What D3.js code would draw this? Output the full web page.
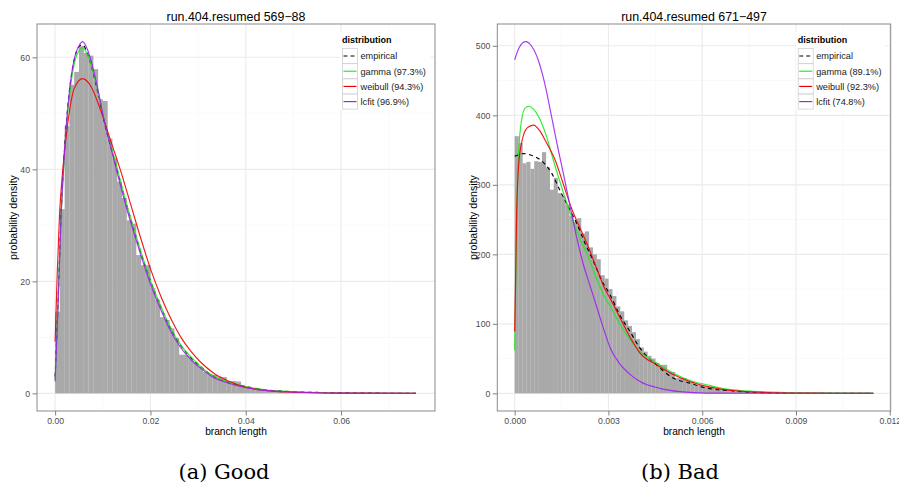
<!DOCTYPE html>
<html>
<head>
<meta charset="utf-8">
<script src="https://cdn.jsdelivr.net/npm/d3@7"></script>
<style>
body{margin:0;background:#fff;}
text{font-family:"Liberation Sans",Arial,sans-serif;}
.caption{font-family:"DejaVu Serif",serif;}
</style>
</head>
<body>
<svg id="chart"></svg>
<script>
//legend entries
var seriesNames=["empirical","gamma","weibull","lcfit"]
var goodLegend=["empirical","gamma (97.3%)","weibull (94.3%)","lcfit (96.9%)"]
var badLegend=["empirical","gamma (89.1%)","weibull (92.3%)","lcfit (74.8%)"]

//tick labels
var goodXTicks=[0,0.02,0.04,0.06]
var goodYTicks=[0,20,40,60]
var badXTicks=[0,0.003,0.006,0.009,0.012]
var badYTicks=[0,100,200,300,400,500]

//histogram, good run (bin width 0.001, density per bin)
var goodBinWidth=0.001
var goodBins=[14.6,32.9,47.7,55.1,57.4,62.0,60.8,60.3,57.9,52.5,52.2,45.5,42.0,37.8,34.9,30.9,30.3,24.7,22.9,22.9,
  18.8,16.7,13.6,13.1,11.6,9.9,6.9,6.9,6.2,5.5,4.7,3.8,3.5,3.3,3.0,2.9,2.2,2.2,2.1,1.3,
  1.2,0.9,0.7,0.6,0.6,0.4,0.3,0.3,0.2,0.2,0.15,0.1,0.1,0.1,0.05,0.05,0.05,0.05,0.03,0.03,
  0.03,0.02,0.02,0.02,0.02,0.01,0.01,0.01,0.01,0.01,0.01,0.01,0.01,0.01,0.01,0.02]

//fitted curves, good run: [branch length, density]
var goodEmpirical=[[0,3],[0.0006,16],[0.0013,33],[0.002,44],[0.003,54],[0.004,59.5],[0.0051,62],[0.0058,62.2],
  [0.0068,60.6],[0.0079,57.5],[0.0089,54],[0.0103,48.5],[0.0117,44],[0.0131,39.6],[0.0149,34],[0.0166,29],
  [0.0183,24.3],[0.0201,19.9],[0.0222,15.4],[0.0243,11.5],[0.0264,8.5],[0.0285,6.4],[0.0305,4.8],[0.0333,3],
  [0.0361,2],[0.04,1.2],[0.0445,0.6],[0.05,0.3],[0.06,0.1],[0.0757,0]]
var goodGamma=[[0,2.4],[0.00056,14.9],[0.00126,31.6],[0.00195,42.3],[0.003,53],[0.00404,58.9],[0.00509,61.3],
  [0.00579,61.7],[0.00683,60.4],[0.00788,57.7],[0.00893,54.2],[0.01032,48.8],[0.01172,44.3],[0.01311,39.9],
  [0.01485,34.2],[0.0166,29.2],[0.01834,24.4],[0.0201,19.9],[0.0222,15.5],[0.0243,11.6],[0.0264,8.6],
  [0.0285,6.5],[0.0305,4.8],[0.0333,3.0],[0.0361,2.1],[0.04,1.2],[0.0445,0.6],[0.05,0.3],[0.06,0.05],[0.0757,0]]
var goodWeibull=[[0,9.2],[0.00042,20.8],[0.00091,31.6],[0.0016,39.9],[0.00265,48.2],[0.00404,54.5],[0.00579,56.2],
  [0.00753,54.8],[0.00962,50.4],[0.0117,45.0],[0.0138,39.6],[0.0159,33.6],[0.018,27.6],[0.0201,22.0],[0.0222,17.3],
  [0.0243,13.3],[0.0264,10.0],[0.0285,7.5],[0.0305,5.6],[0.0333,3.6],[0.0361,2.3],[0.04,1.1],[0.0445,0.5],
  [0.05,0.2],[0.06,0.05],[0.0757,0]]
var goodLcfit=[[0,2.1],[0.00056,14.3],[0.00126,31.6],[0.00195,42.9],[0.003,53.9],[0.00404,59.8],[0.00509,62.2],
  [0.00579,62.8],[0.00683,61.3],[0.00788,58.3],[0.00893,54.5],[0.01032,48.6],[0.01172,43.8],[0.01311,39.1],
  [0.01485,33.5],[0.0166,28.5],[0.01834,23.7],[0.0201,19.3],[0.0222,14.9],[0.0243,11.0],[0.0264,8.1],
  [0.0285,6.0],[0.0305,4.5],[0.0333,2.8],[0.0361,1.9],[0.04,1.0],[0.0445,0.5],[0.05,0.25],[0.06,0.05],[0.0757,0]]

//histogram, bad run (bin width 0.000125)
var badBinWidth=0.000125
var badBins=[370,360,331,333,323,334,333,347,325,293,310,288,283,272,255,247,252,230,233,210,
  200,193,170,165,150,140,125,118,105,97,88,78,66,60,54,50,44,41,41,31,
  31,22,22,22,19.5,16.8,12,12,9.6,9.6,9.6,5.8,5.8,5.8,5.8,2.5,2.5,2.5,2.5,2.5,
  2.5,1.5,1.2,1,1,0.8,0.8,0.6,0.6,0.5,0.4,0.4,0.3,0.3,0.3,0.2,0.2,0.2,0.2,0.1,
  0.1,0.1,0.1,0.1,0.1,0.1,0.1,0.1,0.1,0.1,0.1,0.1]

//fitted curves, bad run
var badEmpirical=[[0,341],[0.00028,345],[0.00051,343],[0.00092,332],[0.00118,317],[0.00145,292],[0.00172,268],
  [0.00198,245],[0.00225,216],[0.00252,190],[0.00278,163],[0.00305,142],[0.00337,112],[0.0037,88],[0.00401,65],
  [0.00454,41],[0.00507,22],[0.0056,14.7],[0.00614,7.5],[0.00678,4.2],[0.00753,1.8],[0.00849,0.3],[0.01147,0]]
var badGamma=[[0,62],[0.00006,240],[0.00012,340],[0.00022,393],[0.00033,410],[0.00045,413],[0.0006,409],
  [0.0008,395],[0.001,372],[0.00124,335],[0.00155,290],[0.00182,254],[0.00209,222],[0.00236,196],[0.00262,165],
  [0.00289,138],[0.00305,126],[0.0034,97],[0.0037,77],[0.00401,60],[0.00454,43.6],[0.00507,29.2],[0.0056,18.6],
  [0.00614,12.4],[0.00678,6.1],[0.00753,3.3],[0.00849,1.4],[0.0095,0.7],[0.01147,0.3]]
var badWeibull=[[0,89],[0.00006,250],[0.00012,325],[0.00022,360],[0.0004,382],[0.0006,386],[0.0008,378],
  [0.001,362],[0.00129,336],[0.00155,302],[0.00182,266],[0.00209,238],[0.00236,210],[0.00262,180],[0.00289,150],
  [0.00305,137],[0.0034,106],[0.0037,80],[0.00401,58],[0.00454,41],[0.00507,27],[0.0056,17],[0.00614,10],
  [0.00678,5],[0.00753,2.2],[0.00849,0.8],[0.0095,0.3],[0.01147,0]]
var badLcfit=[[0,480],[0.00015,498],[0.00035,506],[0.00055,499],[0.00075,480],[0.00095,448],[0.00115,405],
  [0.00135,360],[0.00155,318],[0.00177,270],[0.00198,225],[0.0022,185],[0.00241,155],[0.00262,125],[0.00283,95],
  [0.00305,66],[0.00337,42],[0.0037,27],[0.00401,17],[0.00465,7.2],[0.00529,2.4],[0.00614,0.3],[0.01147,0]]

var colors={empirical:"#000000",gamma:"#1ee81e",weibull:"#f00000",lcfit:"#a020f0"}

var svg=d3.select("#chart")
    .attr("width",899)
    .attr("height",484)

var drawPanel=function(p){
    var xScale=d3.scaleLinear().domain(p.xDomain).range([p.left,p.right])
    var yScale=d3.scaleLinear().domain(p.yDomain).range([p.bottom,p.top])
    var g=svg.append("g")

//minor + major grid
    g.selectAll(".minx").data(p.minorX).enter().append("line")
        .attr("x1",function(d){return xScale(d)}).attr("x2",function(d){return xScale(d)})
        .attr("y1",p.top).attr("y2",p.bottom).attr("stroke","#f7f7f7").attr("stroke-width",0.8)
    g.selectAll(".miny").data(p.minorY).enter().append("line")
        .attr("y1",function(d){return yScale(d)}).attr("y2",function(d){return yScale(d)})
        .attr("x1",p.left).attr("x2",p.right).attr("stroke","#f7f7f7").attr("stroke-width",0.8)
    g.selectAll(".majx").data(p.xTicks).enter().append("line")
        .attr("x1",function(d){return xScale(d)}).attr("x2",function(d){return xScale(d)})
        .attr("y1",p.top).attr("y2",p.bottom).attr("stroke","#ebebeb").attr("stroke-width",1.1)
    g.selectAll(".majy").data(p.yTicks).enter().append("line")
        .attr("y1",function(d){return yScale(d)}).attr("y2",function(d){return yScale(d)})
        .attr("x1",p.left).attr("x2",p.right).attr("stroke","#ebebeb").attr("stroke-width",1.1)

//histogram
    g.append("g").selectAll("rect")
        .data(p.bins)
        .enter()
        .append("rect")
        .attr("x",function(d,i){return xScale(i*p.binWidth)})
        .attr("width",function(d,i){return xScale((i+1)*p.binWidth)-xScale(i*p.binWidth)+0.15})
        .attr("y",function(d){return yScale(d)})
        .attr("height",function(d){return yScale(0)-yScale(d)})
        .attr("fill","#a9a9a9")

//curves
    var lineGenerator=d3.line()
        .x(function(d){return xScale(d[0])})
        .y(function(d){return yScale(d[1])})
        .curve(d3.curveMonotoneX)
    seriesNames.forEach(function(name,i){
        g.append("path")
            .datum(p.curves[i])
            .attr("d",lineGenerator)
            .attr("fill","none")
            .attr("stroke",colors[name])
            .attr("stroke-width",1.15)
            .attr("stroke-opacity",name=="empirical"?1:0.9)
            .attr("stroke-dasharray",name=="empirical"?"4,3.5":null)
    })

//legend
    var lx=p.right-93
    var legend=g.append("g")
    legend.append("rect")
        .attr("x",lx-2).attr("y",32).attr("width",p.right-5-(lx-2)).attr("height",78)
        .attr("fill","#fff")
    legend.append("text")
        .text("distribution")
        .attr("x",lx).attr("y",43)
        .attr("font-size","9px").attr("font-weight","bold")
    seriesNames.forEach(function(name,i){
        var ry=48+i*15.2
        legend.append("rect")
            .attr("x",lx+0.5).attr("y",ry+0.5).attr("width",15).attr("height",15)
            .attr("fill","#fff").attr("stroke","#d0d0d0").attr("stroke-width",0.8)
        legend.append("line")
            .attr("x1",lx+1.5).attr("x2",lx+14.5)
            .attr("y1",ry+8).attr("y2",ry+8)
            .attr("stroke",colors[name]).attr("stroke-width",1.15)
            .attr("stroke-dasharray",name=="empirical"?"4,3":null)
        legend.append("text")
            .text(p.legend[i])
            .attr("x",lx+18.5).attr("y",ry+11.3)
            .attr("font-size","9.2px").attr("fill","#1a1a1a")
    })

//panel border
    g.append("rect")
        .attr("x",p.left).attr("y",p.top)
        .attr("width",p.right-p.left).attr("height",p.bottom-p.top)
        .attr("fill","none").attr("stroke","#8a8a8a").attr("stroke-width",1)

//axes
    var xAxis=d3.axisBottom(xScale).tickValues(p.xTicks).tickFormat(d3.format(p.xFormat))
        .tickSize(4.5).tickPadding(2.5)
    var yAxis=d3.axisLeft(yScale).tickValues(p.yTicks).tickFormat(d3.format("d"))
        .tickSize(4.5).tickPadding(2.5)
    var xa=g.append("g").attr("transform","translate(0,"+p.bottom+")").call(xAxis)
    var ya=g.append("g").attr("transform","translate("+p.left+",0)").call(yAxis)
    ;[xa,ya].forEach(function(a){
        a.select(".domain").remove()
        a.selectAll("line").attr("stroke","#7f7f7f")
        a.selectAll("text").attr("fill","#4d4d4d").attr("font-size","8.7px")
            .attr("font-family","Liberation Sans, Arial, sans-serif")
    })

//labels
    g.append("text")
        .text(p.title)
        .attr("text-anchor","middle")
        .attr("x",(p.left+p.right)/2).attr("y",20.5)
        .attr("font-size","12.4px")
    g.append("text")
        .text("branch length")
        .attr("text-anchor","middle")
        .attr("x",(p.left+p.right)/2).attr("y",434.5)
        .attr("font-size","10.2px")
    g.append("g")
        .attr("transform","translate("+(p.left-20.5)+","+((p.top+p.bottom)/2)+")")
        .append("text")
        .text("probability density")
        .attr("text-anchor","middle")
        .attr("transform","rotate(270)")
        .attr("font-size","10.6px")
    g.append("text")
        .text(p.caption)
        .classed("caption",true)
        .attr("text-anchor","middle")
        .attr("x",p.captionX).attr("y",479)
        .attr("font-size","21px")
}

drawPanel({
    left:37,right:435,top:24,bottom:411,
    xDomain:[-0.0038,0.0797],yDomain:[-3.15,65.95],
    xTicks:goodXTicks,yTicks:goodYTicks,xFormat:".2f",
    minorX:[0.01,0.03,0.05,0.07],minorY:[10,30,50],
    bins:goodBins,binWidth:goodBinWidth,
    curves:[goodEmpirical,goodGamma,goodWeibull,goodLcfit],
    legend:goodLegend,
    title:"run.404.resumed 569\u221288",
    caption:"(a) Good",captionX:224
})
drawPanel({
    left:497.3,right:890.7,top:24,bottom:411,
    xDomain:[-0.000556,0.01203],yDomain:[-25.4,531.4],
    xTicks:badXTicks,yTicks:badYTicks,xFormat:".3f",
    minorX:[0.0015,0.0045,0.0075,0.0105],minorY:[50,150,250,350,450],
    bins:badBins,binWidth:badBinWidth,
    curves:[badEmpirical,badGamma,badWeibull,badLcfit],
    legend:badLegend,
    title:"run.404.resumed 671\u2212497",
    caption:"(b) Bad",captionX:680
})
</script>
</body>
</html>
